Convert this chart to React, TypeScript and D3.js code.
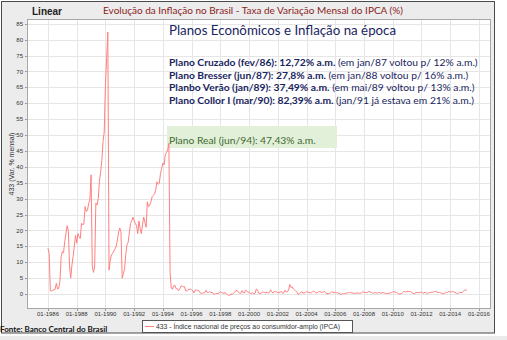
import React from "react";
import * as d3 from "d3";

// Monthly IPCA (% a.m.), starting 01-1986
const ipca1986_1990: number[] = [
  14.4, 12.7, 1.0, 1.0, 1.2, 1.3, 1.5, 3.4, 1.6, 1.8, 4.0, 11.8,
  13.3, 13.0, 16.5, 19.0, 21.5, 20.0, 9.0, 5.0, 9.0, 11.8, 15.0, 18.4,
  16.0, 19.0, 18.0, 17.5, 22.3, 21.8, 22.0, 27.5, 26.0, 26.3, 28.5, 29.5,
  37.5, 9.0, 6.8, 8.5, 28.6, 28.0, 30.0, 35.5, 38.5, 42.0, 48.0, 51.0,
  66.0, 74.0, 82.39, 7.5, 10.5, 12.3, 12.8, 13.5, 14.2, 15.0, 17.0, 19.5,
];
const ipca1991_1995: number[] = [
  20.8, 19.5, 5.0, 6.5, 8.0, 12.5, 15.5, 16.3, 19.5, 22.2, 23.0, 24.2,
  23.0, 22.2, 21.5, 19.0, 23.0, 20.5, 19.0, 22.0, 24.2, 22.5, 21.0, 29.0,
  27.5, 28.0, 29.0, 30.6, 31.0, 31.5, 32.7, 35.3, 34.5, 34.8, 38.0, 39.5,
  41.2, 40.6, 43.8, 44.5, 45.3, 47.43, 6.84, 1.86, 1.53, 2.62, 2.81, 1.71,
  1.70, 1.02, 1.55, 2.43, 2.67, 2.26, 2.36, 0.99, 0.99, 1.41, 1.47, 1.56,
];
const ipca1996_2000: number[] = [
  1.34, 1.03, 0.35, 1.26, 1.22, 1.19, 1.11, 0.44, 0.15, 0.30, 0.32, 0.47,
  1.18, 0.50, 0.51, 0.88, 0.41, 0.54, 0.22, -0.02, 0.06, 0.23, 0.17, 0.43,
  0.71, 0.46, 0.34, 0.24, 0.50, 0.02, -0.12, -0.51, -0.22, 0.02, -0.12, 0.33,
  0.70, 1.05, 1.10, 0.56, 0.30, 0.19, 1.09, 0.56, 0.31, 1.19, 0.95, 0.60,
  0.62, 0.13, 0.22, 0.42, 0.01, 0.23, 1.61, 1.31, 0.23, 0.14, 0.32, 0.59,
];
const ipca2001_2005: number[] = [
  0.57, 0.46, 0.38, 0.58, 0.41, 0.52, 1.33, 0.70, 0.28, 0.83, 0.71, 0.65,
  0.52, 0.36, 0.60, 0.80, 0.21, 0.42, 1.19, 0.65, 0.72, 1.31, 3.02, 2.10,
  2.25, 1.57, 1.23, 0.97, 0.61, -0.15, 0.20, 0.34, 0.78, 0.29, 0.34, 0.52,
  0.76, 0.61, 0.47, 0.37, 0.51, 0.71, 0.91, 0.69, 0.33, 0.44, 0.69, 0.86,
  0.58, 0.59, 0.61, 0.87, 0.49, -0.02, 0.25, 0.17, 0.35, 0.75, 0.55, 0.36,
];
const ipca2006_2010: number[] = [
  0.59, 0.41, 0.43, 0.21, 0.10, -0.21, 0.19, 0.05, 0.21, 0.33, 0.31, 0.48,
  0.44, 0.44, 0.37, 0.25, 0.28, 0.28, 0.24, 0.47, 0.18, 0.30, 0.38, 0.74,
  0.54, 0.49, 0.48, 0.55, 0.79, 0.74, 0.53, 0.28, 0.26, 0.45, 0.36, 0.28,
  0.48, 0.55, 0.20, 0.48, 0.47, 0.36, 0.24, 0.15, 0.24, 0.28, 0.41, 0.37,
  0.75, 0.78, 0.52, 0.57, 0.43, 0.00, 0.01, 0.04, 0.45, 0.75, 0.83, 0.63,
];
const ipca2011_2015: number[] = [
  0.83, 0.80, 0.79, 0.77, 0.47, 0.15, 0.16, 0.37, 0.53, 0.43, 0.52, 0.50,
  0.56, 0.45, 0.21, 0.64, 0.36, 0.08, 0.43, 0.41, 0.57, 0.59, 0.60, 0.79,
  0.86, 0.60, 0.47, 0.55, 0.37, 0.26, 0.03, 0.24, 0.35, 0.57, 0.54, 0.92,
  0.55, 0.69, 0.92, 0.67, 0.46, 0.40, 0.01, 0.25, 0.57, 0.42, 0.51, 0.78,
  1.24, 1.22, 1.32,
];
const startYear = 1986;
const xTickYears = [1986, 1988, 1990, 1992, 1994, 1996, 1998, 2000, 2002, 2004, 2006, 2008, 2010, 2012, 2014, 2016];
const yTicks = [0, 5, 10, 15, 20, 25, 30, 35, 40, 45, 50, 55, 60, 65, 70, 75, 80, 85];

const mainTitle = "Evolução da Inflação no Brasil - Taxa de Variação Mensal do IPCA (%)";
const boxTitle = "Planos Econômicos e Inflação na época";
const planBold = [
  "Plano Cruzado (fev/86): 12,72% a.m.",
  "Plano Bresser (jun/87): 27,8% a.m.",
  "Planbo Verão (jan/89): 37,49% a.m.",
  "Plano Collor I (mar/90): 82,39% a.m.",
];
const planNote = [
  " (em jan/87 voltou p/ 12% a.m.)",
  " (em jan/88 voltou p/ 16% a.m.)",
  " (em mai/89 voltou p/ 13% a.m.)",
  " (jan/91 já estava em 21% a.m.)",
];
const realText = "Plano Real (jun/94): 47,43% a.m.";
const legendText = "433 - Índice nacional de preços ao consumidor-amplo (IPCA)";

export default function App() {
  const W = 507, H = 340;
  const left = 27, right = 491, top = 19, bottom = 309;
  const values = [...ipca1986_1990, ...ipca1991_1995, ...ipca1996_2000, ...ipca2001_2005, ...ipca2006_2010, ...ipca2011_2015];
  const data = values.map((v, i) => ({ t: startYear + i / 12, v }));

  const x = d3.scaleLinear().domain([1984.54, 2016.84]).range([left, right]);
  const y = d3.scaleLinear().domain([-4.7, 86.5]).range([bottom, top]);
  const line = d3.line<{ t: number; v: number }>().x((d) => x(d.t)).y((d) => y(d.v));

  const navy = "#1a2560";
  const calibri = "Lato, 'Open Sans', sans-serif";
  const small = "'Liberation Sans', Arial, sans-serif";

  return (
    <div style={{ position: "fixed", left: 0, top: 0 }}>
      <svg width={W} height={H} style={{ display: "block" }}>
        <rect x={0} y={0} width={W} height={H} fill="#ffffff" />
        <rect x={0} y={336} width={W} height={4} fill="#ebebeb" />
        <rect x={1.5} y={1.5} width={493} height={331.5} fill="#ececec" stroke="#4a4a4a" strokeWidth={1} />
        <rect x={left} y={top} width={right - left} height={bottom - top} fill="#ffffff" />
        {/* grid */}
        {yTicks.map((t) => (
          <line key={"gy" + t} x1={left} x2={right} y1={Math.round(y(t)) + 0.5} y2={Math.round(y(t)) + 0.5} stroke="#e6e6e6" strokeWidth={1} />
        ))}
        {xTickYears.map((yr) => (
          <line key={"gx" + yr} x1={Math.round(x(yr)) + 0.5} x2={Math.round(x(yr)) + 0.5} y1={top} y2={bottom} stroke="#e6e6e6" strokeWidth={1} />
        ))}
        <rect x={left + 0.5} y={top + 0.5} width={right - left - 1} height={bottom - top - 1} fill="none" stroke="#a8a8a8" strokeWidth={1} />
        {/* y axis */}
        {yTicks.map((t) => (
          <g key={"ty" + t}>
            <line x1={left - 2} x2={left} y1={Math.round(y(t)) + 0.5} y2={Math.round(y(t)) + 0.5} stroke="#999" />
            <text x={left - 4} y={y(t)} dy="0.35em" textAnchor="end" fontFamily={small} fontSize={6} fill="#333">{t}</text>
          </g>
        ))}
        <text transform={`translate(12,${(top + bottom) / 2}) rotate(-90)`} textAnchor="middle" dy="0.35em" fontFamily={small} fontSize={7} fill="#333">433 (Var. % mensal)</text>
        {/* x axis */}
        {xTickYears.map((yr) => (
          <g key={"tx" + yr}>
            <line x1={Math.round(x(yr)) + 0.5} x2={Math.round(x(yr)) + 0.5} y1={bottom} y2={bottom + 2} stroke="#999" />
            <text x={x(yr)} y={314} dy="0.35em" textAnchor="middle" fontFamily={small} fontSize={6} fill="#333">{"01-" + yr}</text>
          </g>
        ))}
        {/* annotation boxes */}
        <rect x={167} y={126} width={170} height={22} fill="#e2efd9" />
        <path d={line(data) || ""} fill="none" stroke="#ff8080" strokeWidth={1} />
        {/* titles */}
        <text x={32} y={11} dy="0.35em" fontFamily={small} fontWeight="bold" fontSize={10} fill="#222">Linear</text>
        <text x={253} y={10} dy="0.35em" textAnchor="middle" fontFamily={calibri} fontSize={10} fill="#8b1c1c">{mainTitle}</text>
        <text x={169} y={30} dy="0.35em" fontFamily={calibri} fontSize={13.3} fill={navy}>{boxTitle}</text>
        {planBold.map((b, i) => (
          <text key={"p" + i} x={169} y={62 + i * 12.9} dy="0.35em" fontFamily={calibri} fontSize={10.3} fill={navy}>
            <tspan fontWeight="bold">{b}</tspan>
            <tspan>{planNote[i]}</tspan>
          </text>
        ))}
        <text x={169} y={140} dy="0.35em" fontFamily={calibri} fontSize={10.3} fill="#3f6b30">{realText}</text>
        {/* source */}
        <text x={0} y={329} dy="0.35em" fontFamily={calibri} fontWeight="bold" fontSize={8} fill="#111">Fonte: Banco Central do Brasil</text>
        {/* legend */}
        <rect x={142.5} y={320.5} width={210} height={12} fill="#ffffff" stroke="#555" strokeWidth={1} />
        <line x1={145} x2={154} y1={326.5} y2={326.5} stroke="#ff8080" strokeWidth={1} />
        <text x={156} y={326.5} dy="0.35em" fontFamily={small} fontSize={6.8} fill="#333">{legendText}</text>
      </svg>
    </div>
  );
}
